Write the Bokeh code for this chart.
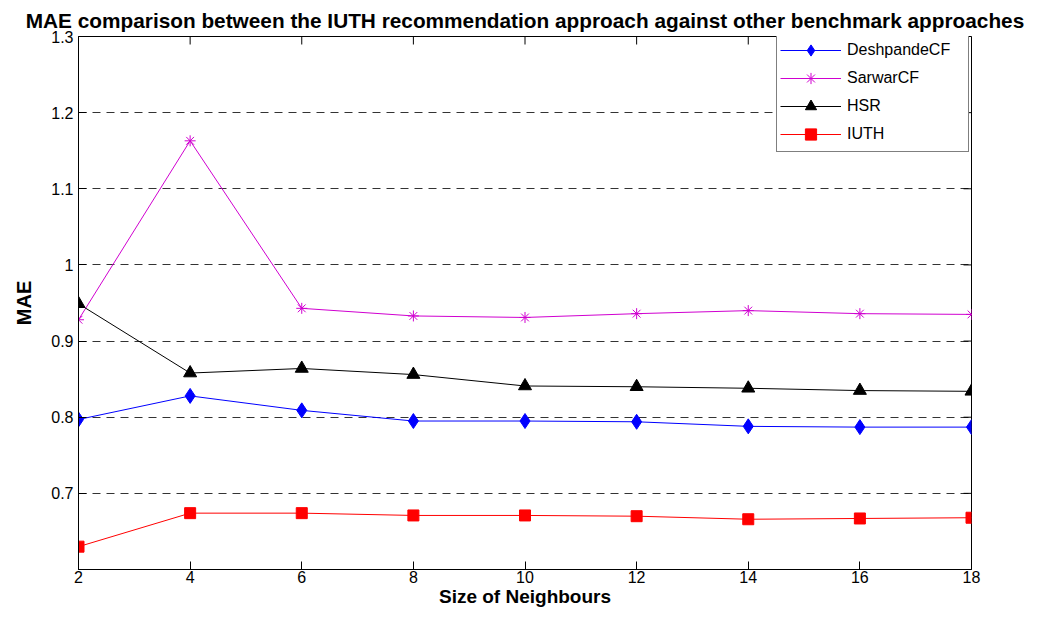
from bokeh.plotting import figure
from bokeh.models import Range1d, FixedTicker, Legend, LegendItem
from bokeh.embed import file_html
from bokeh.resources import INLINE

# ---- data ----
neighbours = [2, 4, 6, 8, 10, 12, 14, 16, 18]
deshpande_cf = [0.797, 0.828, 0.809, 0.795, 0.795, 0.794, 0.788, 0.787, 0.787]
sarwar_cf = [0.928, 1.163, 0.943, 0.933, 0.931, 0.936, 0.940, 0.936, 0.935]
hsr = [0.949, 0.858, 0.864, 0.856, 0.841, 0.840, 0.838, 0.835, 0.834]
iuth = [0.630, 0.674, 0.674, 0.671, 0.671, 0.670, 0.666, 0.667, 0.668]

series_names = ["DeshpandeCF", "SarwarCF", "HSR", "IUTH"]
x_ticks = [2, 4, 6, 8, 10, 12, 14, 16, 18]
y_ticks = [0.7, 0.8, 0.9, 1.0, 1.1, 1.2, 1.3]
y_tick_labels = ["0.7", "0.8", "0.9", "1", "1.1", "1.2", "1.3"]
grid_levels = [0.7, 0.8, 0.9, 1.0, 1.1, 1.2]
x_min, x_max = 2, 18
y_min, y_max = 0.6, 1.3

title_text = "MAE comparison between the IUTH recommendation approach against other benchmark approaches"
x_label = "Size of Neighbours"
y_label = "MAE"

FONT = "Liberation Sans"

p = figure(width=1029, height=611, output_backend="svg", toolbar_location=None,
           x_range=Range1d(x_min, x_max), y_range=Range1d(y_min, y_max),
           min_border_left=78, min_border_right=58, min_border_top=36, min_border_bottom=42,
           title=title_text)

p.background_fill_color = "white"
p.border_fill_color = "white"
p.outline_line_color = "black"
p.outline_line_width = 1

p.title.text_font = FONT
p.title.text_font_size = "20.8px"
p.title.text_font_style = "bold"
p.title.text_color = "black"
p.title.align = "center"
p.title.standoff = 10

# bottom axis
xa = p.xaxis[0]
xa.ticker = FixedTicker(ticks=x_ticks)
xa.major_tick_in = 8
xa.major_tick_out = 0
xa.minor_tick_line_color = None
xa.major_tick_line_color = "black"
xa.axis_line_color = "black"
xa.major_label_text_font = FONT
xa.major_label_text_font_size = "16px"
xa.major_label_text_color = "black"
xa.major_label_standoff = 1
xa.axis_label = x_label
xa.axis_label_text_font = FONT
xa.axis_label_text_font_size = "19px"
xa.axis_label_text_font_style = "bold"
xa.axis_label_text_color = "black"
xa.axis_label_standoff = 0

# left axis
ya = p.yaxis[0]
ya.ticker = FixedTicker(ticks=y_ticks)
ya.major_label_overrides = dict(zip(y_ticks, y_tick_labels))
ya.major_tick_in = 8
ya.major_tick_out = 0
ya.minor_tick_line_color = None
ya.major_tick_line_color = "black"
ya.axis_line_color = "black"
ya.major_label_text_font = FONT
ya.major_label_text_font_size = "16px"
ya.major_label_text_color = "black"
ya.major_label_standoff = 5
ya.axis_label = y_label
ya.axis_label_text_font = FONT
ya.axis_label_text_font_size = "20px"
ya.axis_label_text_font_style = "bold"
ya.axis_label_text_color = "black"
ya.axis_label_standoff = 13

# inward ticks on the top and right edges of the box
p.ray(x=x_ticks, y=[y_max] * len(x_ticks), length=8, length_units="screen",
      angle=-90, angle_units="deg", line_color="black", line_width=1)
p.ray(x=[x_max] * len(y_ticks), y=y_ticks, length=8, length_units="screen",
      angle=180, angle_units="deg", line_color="black", line_width=1)

# grid
p.xgrid.visible = False
p.ygrid[0].ticker = FixedTicker(ticks=grid_levels)
p.ygrid.grid_line_color = "#333333"
p.ygrid.grid_line_dash = "8 6"
p.ygrid.grid_line_width = 1

# series
colors = ["#0000FF", "#D000D0", "#000000", "#FF0000"]
markers = ["diamond", "asterisk", "triangle", "square"]
sizes = [15, 11, 13, 11]
values = [deshpande_cf, sarwar_cf, hsr, iuth]

items = []
for name, vals, col, mk, sz in zip(series_names, values, colors, markers, sizes):
    lr = p.line(neighbours, vals, line_color=col, line_width=1)
    sr = p.scatter(neighbours, vals, marker=mk, size=sz, fill_color=col, line_color=col, line_width=1)
    items.append(LegendItem(label=name, renderers=[lr, sr]))

legend = Legend(items=items, location=(698, 417), padding=3, spacing=-3,
                glyph_height=28, glyph_width=61, label_height=28, label_width=118,
                label_standoff=6, label_text_font=FONT, label_text_font_size="16px",
                label_text_color="black", border_line_color="black", border_line_width=1,
                background_fill_color="white", background_fill_alpha=1.0, margin=0)
p.add_layout(legend)

open("out.html", "w").write(file_html(p, INLINE))
